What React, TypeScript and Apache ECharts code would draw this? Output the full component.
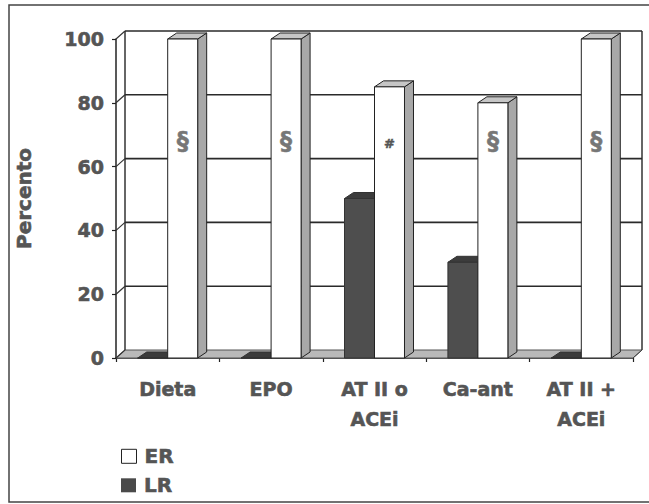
import React, { useEffect, useRef } from 'react';
import * as echarts from 'echarts';

const categories = ['Dieta', 'EPO', 'AT II o\nACEi', 'Ca-ant', 'AT II +\nACEi'];
const erValues = [100, 100, 85, 80, 100];
const lrValues = [0, 0, 50, 30, 0];
const erMarks = ['§', '§', '#', '§', '§'];
const yTicks = [0, 20, 40, 60, 80, 100];
const markLevel = 68;

const WALL_DX = 9;
const WALL_DY = -8;
const BAR_DX = 9;
const BAR_DY = -6;
const BAR_FRAC = 0.29;
const FONT = 'DejaVu Sans';
const TEXT = '#555555';
const HEAVY = { textBorderColor: '#555555', textBorderWidth: 0.6 };

function wallRender(params: any, api: any) {
  const cs = params.coordSys;
  const v = api.value(1);
  const y = api.coord([0, v])[1];
  const x0 = cs.x;
  const x1 = cs.x + cs.width;
  const children: any[] = [];
  if (v === yTicks[0]) {
    const yTop = api.coord([0, yTicks[yTicks.length - 1]])[1];
    children.push({
      type: 'polygon',
      shape: { points: [[x0, y], [x1, y], [x1 + WALL_DX, y + WALL_DY], [x0 + WALL_DX, y + WALL_DY]] },
      style: { fill: '#b9b9b9', stroke: '#555', lineWidth: 1 },
    });
    children.push({
      type: 'line',
      shape: { x1: x0 + WALL_DX, y1: y + WALL_DY, x2: x0 + WALL_DX, y2: yTop + WALL_DY },
      style: { stroke: '#333', lineWidth: 1.5 },
    });
    children.push({
      type: 'line',
      shape: { x1: x1 + WALL_DX, y1: y + WALL_DY, x2: x1 + WALL_DX, y2: yTop + WALL_DY },
      style: { stroke: '#333', lineWidth: 1.5 },
    });
    children.push({
      type: 'line',
      shape: { x1: x1, y1: y, x2: x1 + WALL_DX, y2: y + WALL_DY },
      style: { stroke: '#444', lineWidth: 1 },
    });
  }
  children.push({
    type: 'line',
    shape: { x1: x0, y1: y, x2: x0 + WALL_DX, y2: y + WALL_DY },
    style: { stroke: '#333', lineWidth: 1.2 },
  });
  if (v !== yTicks[0]) {
    children.push({
      type: 'line',
      shape: { x1: x0 + WALL_DX, y1: y + WALL_DY, x2: x1 + WALL_DX, y2: y + WALL_DY },
      style: { stroke: '#2a2a2a', lineWidth: 1.6 },
    });
  }
  return { type: 'group', children };
}

function makeBarRender(side: number, colors: { front: string; side: string; top: string; stroke: string }, marks?: string[]) {
  return (params: any, api: any) => {
    const i = api.value(0);
    const v = api.value(1);
    const [cx, yv] = api.coord([i, v]);
    const y0 = api.coord([i, 0])[1];
    const bw = api.size([1, 0])[0] * BAR_FRAC;
    const xl = side < 0 ? cx - bw : cx;
    const xr = xl + bw;
    const children: any[] = [
      {
        type: 'polygon',
        shape: { points: [[xr, yv], [xr + BAR_DX, yv + BAR_DY], [xr + BAR_DX, y0 + BAR_DY], [xr, y0]] },
        style: { fill: colors.side, stroke: colors.stroke, lineWidth: 1 },
      },
      {
        type: 'polygon',
        shape: { points: [[xl, yv], [xl + BAR_DX, yv + BAR_DY], [xr + BAR_DX, yv + BAR_DY], [xr, yv]] },
        style: { fill: colors.top, stroke: colors.stroke, lineWidth: 1 },
      },
      {
        type: 'rect',
        shape: { x: xl, y: yv, width: bw, height: y0 - yv },
        style: { fill: colors.front, stroke: colors.stroke, lineWidth: 1 },
      },
    ];
    if (marks) {
      const m = marks[params.dataIndex];
      const ym = api.coord([i, markLevel])[1];
      const isHash = m === '#';
      children.push({
        type: 'text',
        x: xl + bw / 2,
        y: ym + (isHash ? 2 : 0),
        style: {
          text: m,
          fill: isHash ? '#555' : '#777',
          stroke: isHash ? '#555' : '#777',
          lineWidth: 0.5,
          font: `bold ${isHash ? 13 : 24}px "${FONT}"`,
          align: 'center',
          verticalAlign: 'middle',
        },
      });
    }
    return { type: 'group', children };
  };
}

const legendBase = {
  left: 116,
  itemWidth: 15,
  itemHeight: 14,
  icon: 'rect',
  selectedMode: false,
  textStyle: { fontFamily: FONT, fontWeight: 'bold', fontSize: 20, color: TEXT, padding: [0, 0, 0, 3], ...HEAVY },
};

export default function App() {
  const ref = useRef<HTMLDivElement>(null);
  useEffect(() => {
    if (!ref.current) return;
    const chart = echarts.init(ref.current, undefined, { renderer: 'svg' });
    chart.setOption({
      animation: false,
      backgroundColor: '#ffffff',
      grid: { left: 116, right: 16, top: 39, bottom: 146 },
      legend: [
        {
          ...legendBase,
          top: 441,
          data: [{ name: 'ER', itemStyle: { color: '#ffffff', borderColor: '#222', borderWidth: 1 } }],
        },
        {
          ...legendBase,
          top: 470,
          data: [{ name: 'LR', itemStyle: { color: '#4a4a4a', borderWidth: 0 } }],
        },
      ],
      graphic: [
        {
          type: 'rect',
          shape: { x: 9, y: 5, width: 660, height: 497 },
          style: { fill: 'none', stroke: '#444', lineWidth: 1.5 },
          silent: true,
        },
      ],
      xAxis: {
        type: 'category',
        data: categories,
        boundaryGap: true,
        axisLine: { lineStyle: { color: '#222', width: 1.5 } },
        axisTick: { show: true, length: 4, lineStyle: { color: '#222', width: 1.2 } },
        axisLabel: {
          margin: 16,
          fontFamily: FONT,
          fontWeight: 'bold',
          fontSize: 19,
          lineHeight: 30,
          color: TEXT,
          interval: 0,
          ...HEAVY,
        },
        splitLine: { show: false },
      },
      yAxis: {
        type: 'value',
        min: 0,
        max: 100,
        interval: 20,
        name: 'Percento',
        nameLocation: 'middle',
        nameRotate: 90,
        nameGap: 82,
        nameTextStyle: { fontFamily: FONT, fontWeight: 'bold', fontSize: 20, color: TEXT, ...HEAVY },
        axisLine: { show: true, lineStyle: { color: '#222', width: 1.5 } },
        axisTick: { show: true, length: 4, lineStyle: { color: '#222', width: 1.2 } },
        axisLabel: { margin: 12, fontFamily: FONT, fontWeight: 'bold', fontSize: 19, color: TEXT, ...HEAVY },
        splitLine: { show: false },
      },
      series: [
        {
          type: 'custom',
          name: 'walls',
          silent: true,
          clip: false,
          z: 1,
          renderItem: wallRender,
          encode: { x: 0, y: 1 },
          data: yTicks.map((v) => [0, v]),
        },
        {
          type: 'custom',
          name: 'LR',
          clip: false,
          z: 2,
          itemStyle: { color: '#4a4a4a' },
          renderItem: makeBarRender(-1, { front: '#4e4e4e', side: '#3a3a3a', top: '#3c3c3c', stroke: '#333' }),
          encode: { x: 0, y: 1 },
          data: lrValues.map((v, i) => [i, v]),
        },
        {
          type: 'custom',
          name: 'ER',
          clip: false,
          z: 3,
          itemStyle: { color: '#ffffff', borderColor: '#222', borderWidth: 1 },
          renderItem: makeBarRender(1, { front: '#ffffff', side: '#a8a8a8', top: '#c6c6c6', stroke: '#222' }, erMarks),
          encode: { x: 0, y: 1 },
          data: erValues.map((v, i) => [i, v]),
        },
      ],
    });
    return () => chart.dispose();
  }, []);
  return <div ref={ref} style={{ position: 'fixed', left: 0, top: 0, width: 649, height: 504 }} />;
}
